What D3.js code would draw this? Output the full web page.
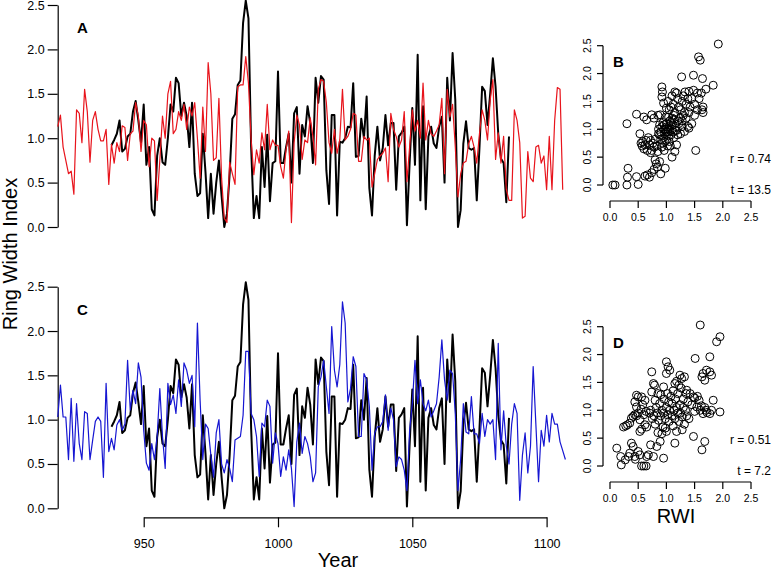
<!DOCTYPE html>
<html>
<head>
<meta charset="utf-8">
<script src="https://cdn.jsdelivr.net/npm/d3@7/dist/d3.min.js"></script>
<style>
  html, body { margin: 0; padding: 0; background: #fff; }
  svg { display: block; font-family: "Liberation Sans", Arial, Helvetica, sans-serif; }
</style>
</head>
<body>
<svg id="chart" width="774" height="573"></svg>
<script>
// ---------------- DATA ----------------
const redStart = 918;
const redValues = [
  1.13,1.26,0.90,0.75,0.60,0.63,0.37,1.32,1.28,0.95,1.55,1.30,0.73,1.20,1.30,1.10,0.97,0.97,1.10,0.48,
  0.93,0.72,0.95,0.85,1.14,1.12,0.75,1.05,1.08,1.40,1.25,0.85,1.20,1.15,0.68,1.00,0.97,0.30,0.75,1.25,
  1.00,1.50,1.64,1.05,1.10,1.30,1.20,1.38,1.10,1.35,1.25,1.40,1.00,0.55,1.35,0.85,1.85,1.50,0.75,0.78,
  1.45,0.55,0.10,0.05,0.73,0.60,0.48,1.58,1.60,1.60,1.92,1.62,
  0.98,0.59,0.87,0.72,1.06,0.87,1.38,0.87,0.98,0.92,0.92,0.68,0.55,0.87,1.08,0.05,0.95,1.26,1.15,0.76,
  0.98,0.95,1.23,1.02,0.70,1.55,1.66,1.64,1.40,0.95,0.83,1.10,0.83,0.98,1.55,0.98,1.02,1.10,1.28,1.26,
  0.74,0.74,1.02,0.98,1.00,0.45,0.60,0.76,0.80,0.83,0.89,0.51,1.28,1.10,1.02,0.90,0.98,1.30,0.51,0.90,
  1.32,1.08,1.20,1.00,1.62,0.98,1.20,1.05,1.02,1.08,1.15,1.45,0.60,1.55,1.24,1.38,0.90,0.34,0.60,0.72,
  0.74,0.94,1.02,0.90,0.72,1.05,1.32,1.20,0.98,
  1.43,1.66,0.76,1.06,0.72,1.02,0.42,0.30,0.30,1.32,1.20,0.95,0.10,0.12,0.85,0.55,0.51,0.90,0.92,0.72,
  0.80,0.42,1.02,0.42,1.20,1.57,1.55,0.42
];
const blackStart = 938;
const blackValues = [
  0.92,0.98,1.05,1.20,0.85,0.88,1.02,1.05,1.30,1.42,1.20,0.95,1.38,0.70,0.90,0.20,0.13,0.80,1.00,0.73,
  0.70,1.00,1.38,1.30,1.68,1.62,1.25,1.40,1.25,0.90,1.40,0.60,0.35,0.38,1.05,0.62,0.10,0.60,0.15,0.50,
  0.75,0.35,0.00,0.15,0.60,1.22,1.27,1.60,1.65,2.30,2.55,2.35,0.90,0.10,0.35,0.10,0.90,0.45,1.04,0.29,
  0.72,0.74,1.75,0.72,0.72,0.90,1.05,0.50,1.28,1.35,0.60,1.15,1.02,1.36,1.17,0.72,1.68,1.40,1.70,1.66,
  0.64,0.26,1.26,1.26,0.13,0.96,0.95,1.00,1.13,1.12,1.62,0.79,0.80,1.22,1.00,1.47,0.44,0.13,0.80,1.13,
  0.75,0.89,1.26,0.92,1.17,1.17,0.42,1.02,1.06,1.13,0.02,0.72,1.34,0.70,1.94,0.30,1.36,0.20,1.02,1.13,
  0.94,0.89,1.13,1.24,0.50,1.68,1.20,1.96,1.43,0.00,0.19,0.94,1.19,0.89,0.87,0.89,0.30,0.89,1.58,1.53,
  1.15,1.50,1.90,1.58,1.05,0.77,0.72,0.28,1.02
];
const blueStart = 918;
const blueValues = [
  1.03,1.39,1.03,1.03,0.55,1.24,0.53,1.18,0.73,0.55,1.09,1.07,0.55,0.77,0.98,1.03,0.98,0.35,1.41,0.64,
  0.79,0.66,0.94,1.00,0.88,0.95,1.67,1.11,1.33,1.18,1.64,1.48,0.88,0.51,0.43,0.73,0.55,0.81,1.35,0.81,
  0.45,1.41,1.17,1.28,1.07,1.45,1.15,1.64,1.56,1.41,1.50,0.92,2.09,1.22,0.55,0.95,0.90,0.60,0.35,0.85,
  1.00,0.50,0.40,0.55,0.45,0.30,0.77,0.79,0.81,1.05,1.77,1.77,
  1.07,1.00,0.81,0.36,0.96,0.92,1.22,1.15,0.51,0.85,0.73,0.36,0.58,0.43,0.66,0.45,0.02,0.75,0.96,0.62,
  0.81,0.73,0.58,0.30,0.40,1.37,1.48,1.67,1.37,1.07,2.05,1.56,1.37,1.62,2.33,2.09,1.20,1.35,1.71,1.60,
  0.81,0.81,1.52,1.45,1.15,0.43,0.85,0.92,0.92,0.98,1.28,0.88,1.13,1.00,0.47,0.58,0.55,0.43,0.20,0.88,
  1.18,1.67,1.18,1.45,1.18,1.10,1.22,1.03,1.10,1.18,1.48,1.90,1.45,1.22,1.56,1.52,1.07,0.20,0.55,1.18,
  0.86,0.84,1.26,0.84,0.84,
  0.73,1.07,0.81,1.00,0.95,1.00,0.55,1.86,0.66,1.10,0.70,0.50,0.95,1.18,1.07,0.09,0.60,0.85,0.40,0.70,
  1.60,0.95,0.30,0.88,0.70,1.05,0.75,1.07,0.95,0.95,0.75,0.65,0.55
];

// Scatter B: comparison RWI (x) vs reference RWI (y)
const bX = [
  0.05,0.09,0.30,0.31,0.32,0.47,0.50,0.62,0.66,0.70,0.74,0.78,0.82,0.88,0.90,0.84,
  0.30,0.47,0.60,0.65,
  0.53,0.55,0.57,0.58,0.60,0.62,0.64,0.66,0.68,0.70,0.72,0.74,0.76,0.78,0.80,0.72,
  0.74,0.78,0.85,0.89,0.92,0.93,0.92,0.95,
  0.85,0.83,0.86,0.88,0.90,0.86,0.92,0.95,0.97,0.98,1.00,1.00,1.02,1.03,1.04,1.05,1.06,1.07,1.08,1.10,
  1.10,1.12,1.12,1.13,1.15,1.15,1.17,1.18,1.20,1.20,0.96,0.93,0.99,1.02,0.98,1.10,0.94,0.90,0.96,1.04,
  1.08,1.00,0.97,1.05,1.13,1.16,0.88,0.92,1.01,1.06,
  1.03,1.05,1.08,1.15,1.18,1.22,1.25,1.27,1.28,1.30,1.12,1.20,1.00,1.10,
  1.25,1.30,1.32,1.33,1.35,1.35,1.38,1.38,1.40,1.40,1.42,1.45,1.45,1.50,1.50,1.55,1.62,1.65,1.65,1.63,
  1.58,1.55,1.48,1.40,1.22,1.28,1.18,1.25,1.32,1.28,
  1.48,1.57,1.60,1.64,1.70,1.83,1.92,1.52,
  0.80,1.14,0.95
];
const bY = [
  0.00,0.00,0.00,0.14,0.30,0.15,0.01,0.16,0.18,0.14,0.22,0.28,0.38,0.42,0.20,0.32,
  1.10,1.27,1.22,1.17,
  0.92,0.75,0.70,0.78,0.65,0.72,0.80,0.62,0.85,0.72,0.80,0.62,0.75,0.68,0.82,0.58,
  1.26,1.20,1.25,1.26,1.76,1.67,1.58,1.47,
  0.60,0.70,0.92,0.90,0.95,1.00,1.05,0.85,0.92,1.00,1.10,0.80,0.95,1.00,0.88,1.05,1.15,0.70,0.90,1.00,
  1.20,0.95,1.08,1.25,1.30,0.60,1.05,0.72,0.90,1.15,0.62,0.75,1.22,0.70,0.30,0.50,1.12,0.82,1.08,1.22,
  1.12,0.95,0.78,0.78,0.85,0.98,1.08,0.68,1.04,0.98,
  1.50,1.35,1.40,1.67,1.65,1.40,1.35,1.94,1.50,1.60,1.45,1.55,1.38,1.60,
  1.20,1.25,1.30,1.67,1.20,1.45,1.05,1.55,1.02,1.30,1.40,1.10,1.55,1.25,1.45,1.35,1.65,1.40,1.30,1.35,
  1.55,1.65,1.70,1.68,1.10,1.05,0.98,0.92,0.96,1.15,
  1.97,2.30,2.24,1.91,1.72,1.79,2.53,0.62,
  0.45,1.18,1.00
];
// Scatter D: comparison RWI (x) vs reference RWI (y)
const dX = [
  0.12,0.19,0.20,0.27,0.33,0.35,0.38,0.41,0.44,0.50,0.45,0.56,0.60,0.64,0.65,0.68,0.77,0.95,0.83,0.89,0.72,0.53,
  0.24,0.28,0.31,0.35,0.41,0.44,0.47,0.50,0.47,0.44,0.50,0.47,0.56,0.62,0.53,0.53,0.56,0.62,0.65,0.38,
  0.58,0.55,0.60,0.64,
  0.74,0.77,0.79,0.74,1.00,1.03,1.06,1.00,0.85,0.95,
  0.70,0.72,0.75,0.78,0.80,0.82,0.84,0.86,0.88,0.90,0.92,0.94,0.95,0.96,0.98,1.00,1.00,1.02,1.04,1.05,
  1.06,1.08,1.10,1.10,1.12,1.12,1.14,1.15,1.16,1.18,1.20,1.20,1.22,1.24,1.25,1.26,1.28,1.30,1.30,1.32,
  1.34,1.35,1.36,1.38,1.40,0.85,0.92,0.98,0.80,0.90,1.02,1.18,1.28,
  1.15,1.18,1.24,1.27,1.22,1.32,
  1.36,1.42,1.48,1.50,1.54,1.60,1.65,1.70,1.80,1.83,1.77,1.95,1.45,1.55,1.62,1.72,1.50,1.58,1.68,
  1.63,1.65,1.71,1.77,1.80,1.68,1.60,1.89,1.95,1.77,1.51,
  1.48,1.68,1.63,1.15
];
const dY = [
  0.32,0.17,0.02,0.11,0.17,0.23,0.41,0.35,0.17,0.26,0.12,0.00,0.00,0.00,0.17,0.20,0.17,0.14,0.35,0.44,0.38,0.20,
  0.70,0.72,0.74,0.77,0.89,0.92,0.90,0.95,1.06,1.15,1.24,1.27,1.24,1.18,0.83,0.62,0.66,0.74,0.70,0.86,
  1.10,1.02,0.92,0.98,
  1.69,1.48,1.45,1.33,1.87,1.78,1.72,1.66,1.30,1.42,
  0.95,1.00,0.85,0.90,0.75,1.05,0.95,0.82,1.12,0.90,1.00,0.70,0.95,1.20,0.85,1.05,0.62,0.92,1.15,0.80,
  1.00,1.25,0.90,1.12,0.72,1.35,1.00,0.85,1.20,1.05,0.95,1.30,0.80,1.10,0.95,1.40,0.88,1.05,1.20,0.75,
  1.00,1.30,0.90,1.15,0.85,0.60,0.58,0.68,1.18,1.28,1.30,0.62,0.65,
  1.48,1.52,1.63,1.57,1.45,1.60,
  1.36,1.30,1.24,1.22,1.06,1.00,0.94,1.00,1.00,1.18,0.94,0.97,1.10,1.25,1.08,0.96,0.98,1.18,1.05,
  1.60,1.66,1.72,1.69,1.63,1.54,2.53,2.23,2.32,1.96,1.93,
  0.53,0.44,0.29,0.41
];

const yearTicks = [950, 1000, 1050, 1100];
const rwiTicks = [0, 0.5, 1.0, 1.5, 2.0, 2.5];
const statsB = ["r = 0.74", "t = 13.5"];
const statsD = ["r = 0.51", "t = 7.2"];
const panelLabels = ["A", "B", "C", "D"];

// ---------------- HELPERS ----------------
const toSeries = (start, vals) => vals.map((v, i) => ({ year: start + i, v }));
const red = toSeries(redStart, redValues);
const black = toSeries(blackStart, blackValues);
const blue = toSeries(blueStart, blueValues);
const zipPts = (xs, ys) => xs.map((v, i) => ({ x: v, y: ys[i] }));

const svg = d3.select("#chart");
const FONT_TICK = 12.5;

const x = d3.scaleLinear().domain([950, 1100]).range([143.7, 546.6]);
const yA = d3.scaleLinear().domain([0, 2.5]).range([227, 5]);
const yC = d3.scaleLinear().domain([0, 2.5]).range([508.3, 286.7]);

function leftAxis(yScale, xPos) {
  const g = svg.append("g").attr("transform", `translate(${xPos},0)`)
    .call(d3.axisLeft(yScale).tickValues(rwiTicks).tickFormat(d3.format(".1f"))
      .tickSize(10).tickSizeOuter(0).tickPadding(3));
  g.selectAll("path,line").attr("stroke", "#000").attr("stroke-width", 1.2);
  g.selectAll("text").attr("font-size", FONT_TICK).attr("fill", "#000")
    .attr("font-family", "Liberation Sans, Arial, sans-serif");
  return g;
}

function drawLine(data, yScale, color, width) {
  svg.append("path").datum(data)
    .attr("fill", "none").attr("stroke", color).attr("stroke-width", width)
    .attr("stroke-linejoin", "round")
    .attr("d", d3.line().x(d => x(d.year)).y(d => yScale(d.v)));
}

// Panel A
leftAxis(yA, 57.7);
drawLine(black, yA, "#000", 2);
drawLine(red, yA, "#e8141c", 1.2);
svg.append("text").attr("x", 77).attr("y", 33).attr("font-weight", "bold")
  .attr("font-size", 15).text(panelLabels[0]);

// Panel C
leftAxis(yC, 57.7);
drawLine(black, yC, "#000", 2);
drawLine(blue, yC, "#1616d2", 1.2);
svg.append("text").attr("x", 77).attr("y", 315).attr("font-weight", "bold")
  .attr("font-size", 15).text(panelLabels[2]);

// bottom year axis
const gx = svg.append("g").attr("transform", "translate(0,517.3)")
  .call(d3.axisBottom(x).tickValues(yearTicks).tickFormat(d3.format("d"))
    .tickSize(10).tickSizeOuter(0).tickPadding(12));
gx.selectAll("path,line").attr("stroke", "#000").attr("stroke-width", 1.2);
gx.selectAll("text").attr("font-size", FONT_TICK).attr("fill", "#000")
  .attr("font-family", "Liberation Sans, Arial, sans-serif");

svg.append("text").attr("x", 338).attr("y", 567).attr("text-anchor", "middle")
  .attr("font-size", 20).text("Year");
svg.append("text").attr("transform", "translate(17,254) rotate(-90)")
  .attr("text-anchor", "middle").attr("font-size", 20).text("Ring Width Index");

// Scatter panels
function scatter(top, pts, label, stats, withTitle) {
  const sx = d3.scaleLinear().domain([0, 2.5]).range([610, 751]);
  const sy = d3.scaleLinear().domain([0, 2.5]).range([top + 139.3, top]);
  const axisY = top + 155.3;
  const g = svg.append("g");
  g.append("line").attr("x1", 603).attr("x2", 603).attr("y1", sy(0)).attr("y2", sy(2.5))
    .attr("stroke", "#000").attr("stroke-width", 1.2);
  rwiTicks.forEach(t => {
    g.append("line").attr("x1", 597).attr("x2", 603).attr("y1", sy(t)).attr("y2", sy(t))
      .attr("stroke", "#000").attr("stroke-width", 1.2);
    g.append("text").attr("transform", `translate(591,${sy(t)}) rotate(-90)`)
      .attr("text-anchor", "middle").attr("font-size", 10.5).text(d3.format(".1f")(t));
  });
  g.append("line").attr("x1", sx(0)).attr("x2", sx(2.5)).attr("y1", axisY).attr("y2", axisY)
    .attr("stroke", "#000").attr("stroke-width", 1.2);
  rwiTicks.forEach(t => {
    g.append("line").attr("x1", sx(t)).attr("x2", sx(t)).attr("y1", axisY).attr("y2", axisY + 7)
      .attr("stroke", "#000").attr("stroke-width", 1.2);
    g.append("text").attr("x", sx(t)).attr("y", axisY + 19.5).attr("text-anchor", "middle")
      .attr("font-size", 10.5).text(d3.format(".1f")(t));
  });
  g.selectAll("circle.pt").data(pts).join("circle")
    .attr("class", "pt").attr("cx", d => sx(d.x)).attr("cy", d => sy(d.y)).attr("r", 4)
    .attr("fill", "none").attr("stroke", "#000").attr("stroke-width", 1);
  g.append("text").attr("x", 613).attr("y", top + 21).attr("font-weight", "bold")
    .attr("font-size", 15).text(label);
  g.append("text").attr("x", 771).attr("y", top + 117).attr("text-anchor", "end")
    .attr("font-size", 12).text(stats[0]);
  g.append("text").attr("x", 771).attr("y", top + 148).attr("text-anchor", "end")
    .attr("font-size", 12).text(stats[1]);
  if (withTitle) {
    g.append("text").attr("x", 676).attr("y", axisY + 41).attr("text-anchor", "middle")
      .attr("font-size", 20).text("RWI");
  }
}
scatter(45.7, zipPts(bX, bY), panelLabels[1], statsB, false);
scatter(326.7, zipPts(dX, dY), panelLabels[3], statsD, true);
</script>
</body>
</html>
